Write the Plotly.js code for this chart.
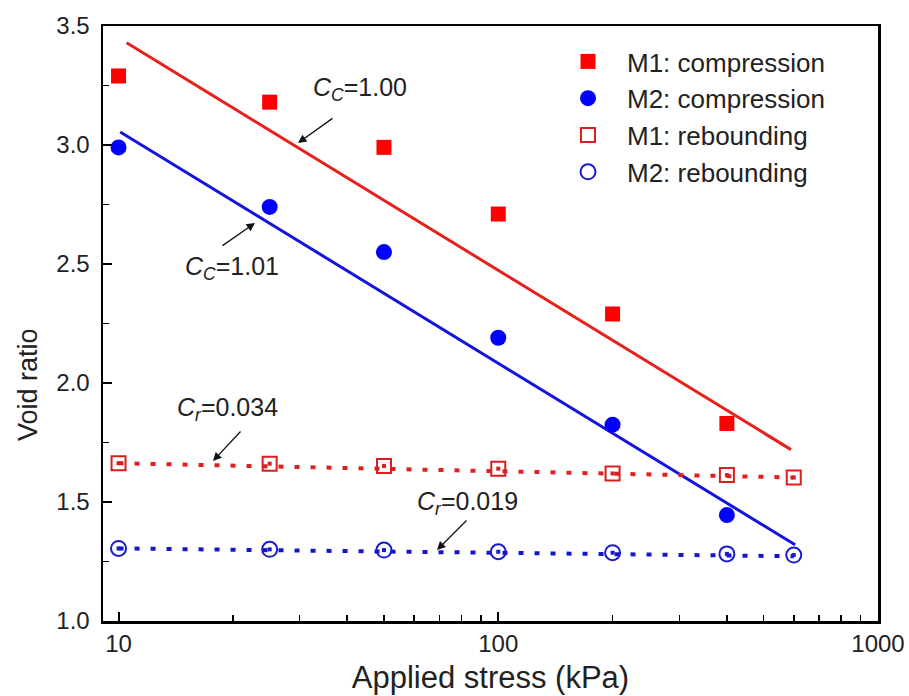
<!DOCTYPE html>
<html>
<head>
<meta charset="utf-8">
<script src="https://cdn.plot.ly/plotly-3.0.1.min.js"></script>
<style>html,body{margin:0;padding:0;background:#fff;}#chart{width:909px;height:696px;}</style>
</head>
<body>
<div id="chart"></div>
<script>
// Applied stress (kPa)
const stressComp = [10, 25, 50, 100, 200, 400];
const stressReb = [10, 25, 50, 100, 200, 400, 600];
// Void ratio values
const m1Comp = [3.29, 3.18, 2.99, 2.71, 2.29, 1.83];
const m2Comp = [2.99, 2.74, 2.55, 2.19, 1.825, 1.445];
const m1Reb = [1.663, 1.661, 1.651, 1.640, 1.620, 1.613, 1.603];
const m2Reb = [1.305, 1.301, 1.298, 1.291, 1.287, 1.282, 1.277];
// Fitted lines (end points)
const m1FitX = [10.5, 590], m1FitY = [3.43, 1.72];
const m2FitX = [10.1, 605], m2FitY = [3.055, 1.32];
const m1RebFitX = [10, 600], m1RebFitY = [1.663, 1.603];
const m2RebFitX = [10, 600], m2RebFitY = [1.305, 1.272];
// Legend names and labels
const names = ['M1: compression', 'M2: compression', 'M1: rebounding', 'M2: rebounding'];
const labels = ['<i>C</i><sub><i>C</i></sub>=1.00', '<i>C</i><sub><i>C</i></sub>=1.01', '<i>C</i><sub><i>r</i></sub>=0.034', '<i>C</i><sub><i>r</i></sub>=0.019'];
const xTitle = 'Applied stress (kPa)';
const yTitle = 'Void ratio';
const xTickVals = [10, 100, 1000];
const xTickText = ['10', '100', '1000'];
const xMinorVals = [20,30,40,50,60,70,80,90,200,300,400,500,600,700,800,900];

const FONT = 'Arial, "Liberation Sans", sans-serif';
const RED = '#ff0000', BLUE = '#0000ff';
const ORED = '#d81e1e', OBLUE = '#1a1ad0';

const traces = [
  {x: m1FitX, y: m1FitY, mode: 'lines', line: {color: '#e8201c', width: 3}, showlegend: false, hoverinfo: 'skip'},
  {x: m2FitX, y: m2FitY, mode: 'lines', line: {color: '#1414dc', width: 3}, showlegend: false, hoverinfo: 'skip'},
  {x: m1RebFitX, y: m1RebFitY, mode: 'lines', line: {color: '#e02020', width: 4, dash: '5px,11px'}, showlegend: false, hoverinfo: 'skip'},
  {x: m2RebFitX, y: m2RebFitY, mode: 'lines', line: {color: '#1414d0', width: 4, dash: '5px,11px'}, showlegend: false, hoverinfo: 'skip'},
  {x: stressComp, y: m1Comp, name: names[0], mode: 'markers', marker: {symbol: 'square', size: 15, color: RED}},
  {x: stressComp, y: m2Comp, name: names[1], mode: 'markers', marker: {symbol: 'circle', size: 16, color: BLUE}},
  {x: stressReb, y: m1Reb, name: names[2], mode: 'markers', marker: {symbol: 'square-open', size: 14, color: ORED, line: {width: 2, color: ORED}}},
  {x: stressReb, y: m2Reb, name: names[3], mode: 'markers', marker: {symbol: 'circle-open', size: 15, color: OBLUE, line: {width: 2, color: OBLUE}}},
  {x: stressReb, y: m1Reb, mode: 'markers', marker: {symbol: 'square', size: 4, color: ORED}, showlegend: false, hoverinfo: 'skip'},
  {x: stressReb, y: m2Reb, mode: 'markers', marker: {symbol: 'square', size: 4, color: OBLUE}, showlegend: false, hoverinfo: 'skip'}
];

function px(x){ return (x - 103) / 775; }
function py(y){ return (621 - y) / 595; }

const textAnn = (t, x, y) => ({text: t, xref: 'paper', yref: 'paper', x: px(x), y: py(y), xanchor: 'left', yanchor: 'middle', showarrow: false, font: {family: FONT, size: 25, color: '#222'}});
const arrowAnn = (hx, hy, ax, ay) => ({text: '', xref: 'paper', yref: 'paper', x: px(hx), y: py(hy), ax: ax, ay: ay, showarrow: true, arrowhead: 2, arrowsize: 1.3, arrowwidth: 1.3, arrowcolor: '#111', standoff: 0, startstandoff: 0, font: {size: 1}, borderpad: 0});

const layout = {
  width: 909, height: 696,
  margin: {l: 103, r: 31, t: 26, b: 75},
  paper_bgcolor: '#fff', plot_bgcolor: '#fff',
  font: {family: FONT, color: '#222'},
  showlegend: true,
  legend: {x: px(549), y: py(38), xanchor: 'left', yanchor: 'top', font: {family: FONT, size: 26, color: '#222'}, bgcolor: 'rgba(0,0,0,0)', tracegroupgap: 0, itemwidth: 68},
  xaxis: {
    type: 'log', range: [Math.log10(9.1), 3],
    tickmode: 'array', tickvals: xTickVals, ticktext: xTickText,
    ticks: 'inside', ticklen: 9, tickwidth: 2, tickcolor: '#000',
    minor: {tickmode: 'array', tickvals: xMinorVals, ticks: 'inside', ticklen: 6, tickwidth: 1.5, tickcolor: '#000'},
    showline: true, linecolor: '#000', linewidth: 2.5, mirror: true,
    showgrid: false, zeroline: false,
    tickfont: {family: FONT, size: 24, color: '#222'},
    title: {text: xTitle, font: {family: FONT, size: 31, color: '#222'}, standoff: 10}
  },
  yaxis: {
    range: [1, 3.5], dtick: 0.5, tick0: 1, tickformat: '.1f',
    ticks: 'inside', ticklen: 9, tickwidth: 2, tickcolor: '#000',
    minor: {dtick: 0.25, ticks: 'inside', ticklen: 6, tickwidth: 1.5, tickcolor: '#000'},
    showline: true, linecolor: '#000', linewidth: 2.5, mirror: true,
    showgrid: false, zeroline: false,
    tickfont: {family: FONT, size: 24, color: '#222'},
    ticklabelstandoff: 6
  },
  annotations: [
    {text: yTitle, xref: 'paper', yref: 'paper', x: px(28), y: py(385), xanchor: 'center', yanchor: 'middle', textangle: -90, showarrow: false, font: {family: FONT, size: 27, color: '#222'}},
    textAnn(labels[0], 311, 89),
    textAnn(labels[1], 183, 268),
    textAnn(labels[2], 175, 409),
    textAnn(labels[3], 415, 503),
    arrowAnn(298, 143, 35, -25),
    arrowAnn(255, 223, -33, 23),
    arrowAnn(213, 461, 28, -30),
    arrowAnn(437, 550, 30, -30)
  ]
};

Plotly.newPlot('chart', traces, layout, {staticPlot: true, displayModeBar: false});
</script>
</body>
</html>
